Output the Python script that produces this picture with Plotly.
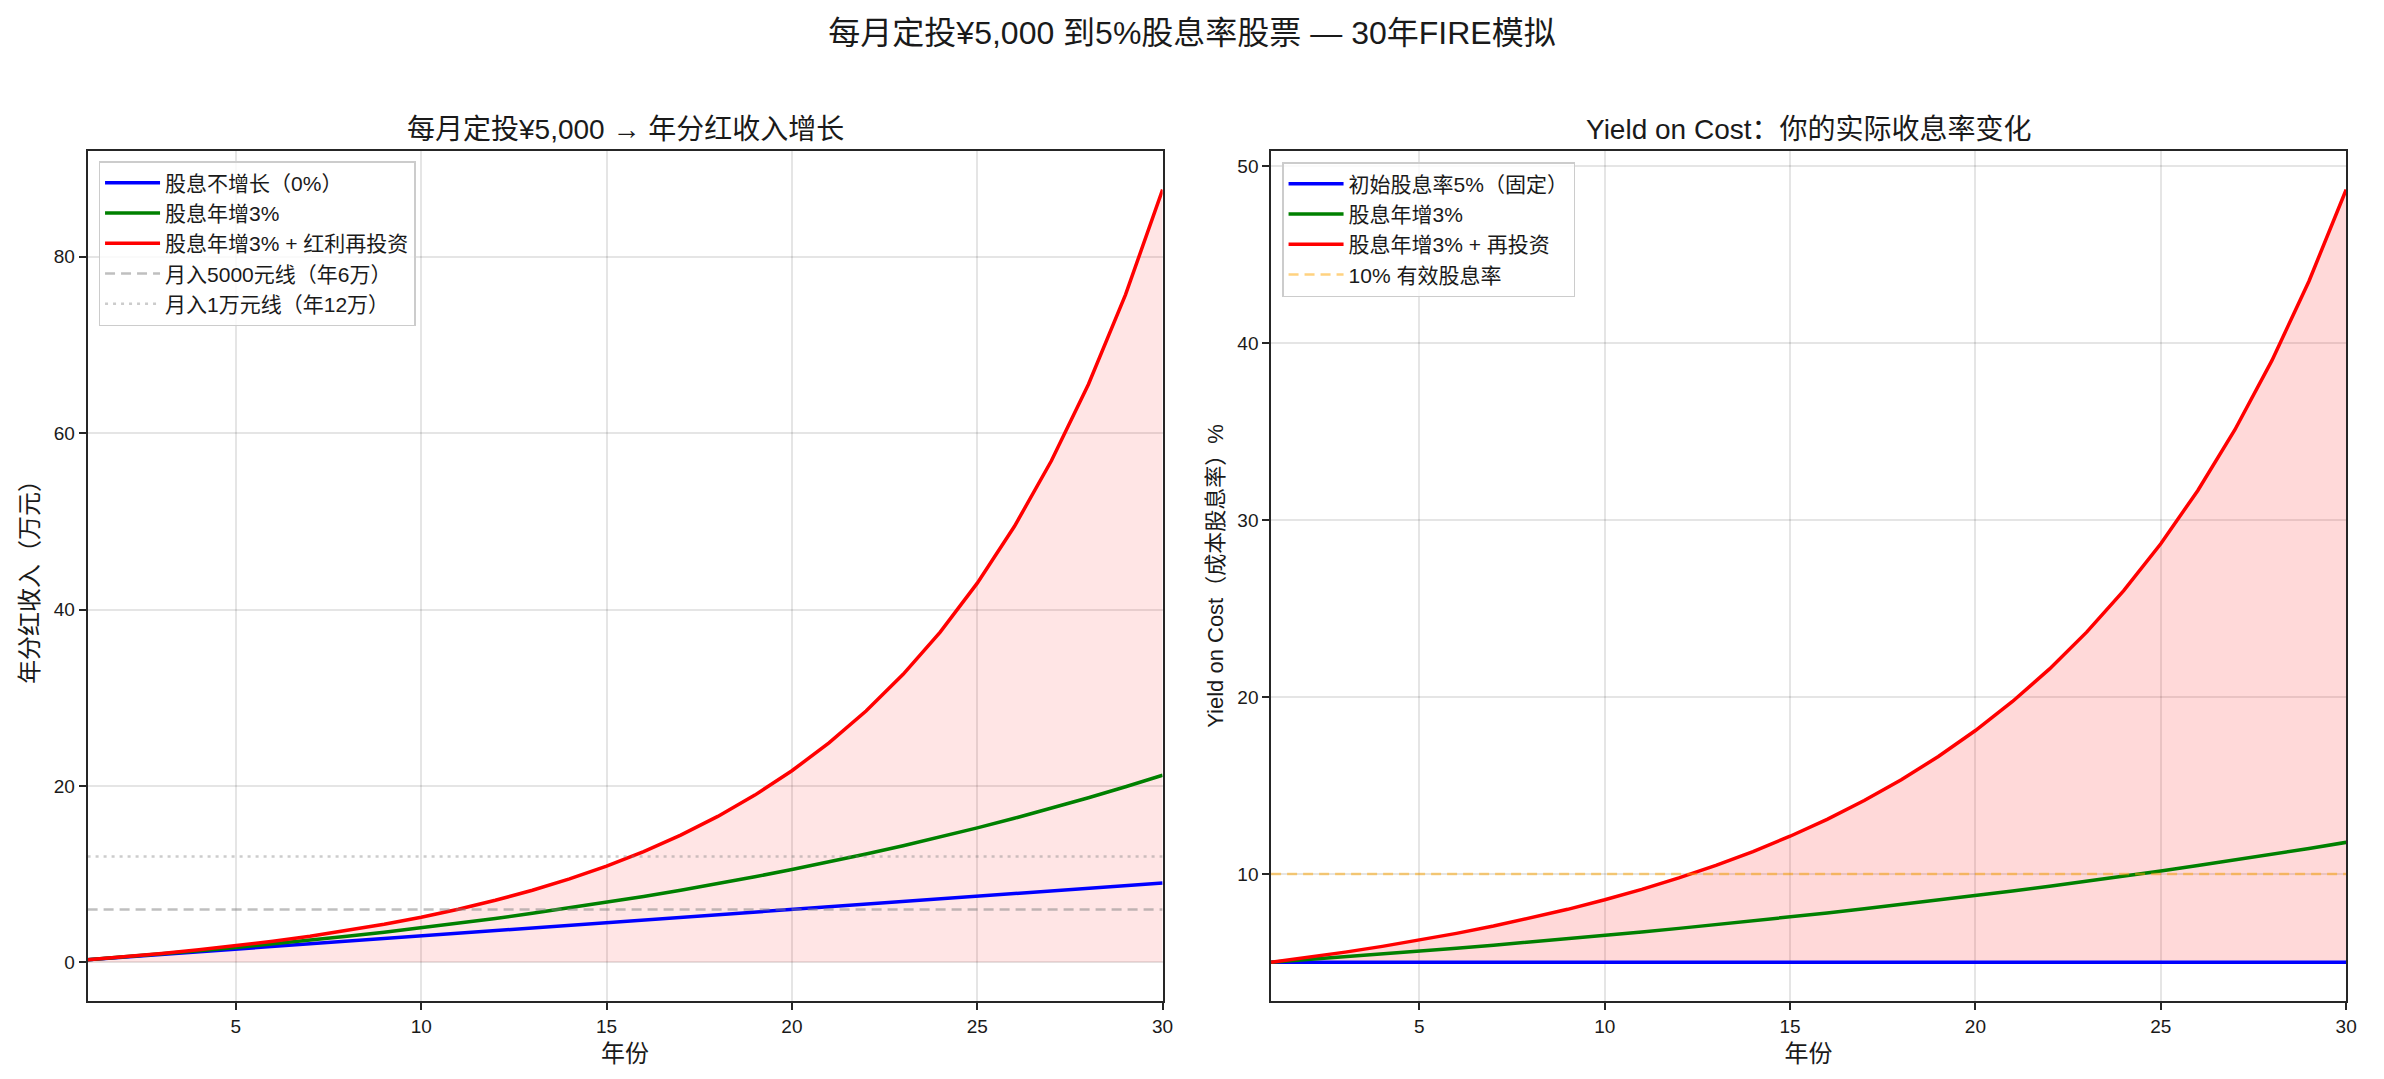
import plotly.graph_objects as go

years = list(range(1, 31))

# 年分红收入（万元）
income_flat = [0.3, 0.6, 0.9, 1.2, 1.5, 1.8, 2.1, 2.4, 2.7, 3.0,
               3.3, 3.6, 3.9, 4.2, 4.5, 4.8, 5.1, 5.4, 5.7, 6.0,
               6.3, 6.6, 6.9, 7.2, 7.5, 7.8, 8.1, 8.4, 8.7, 9.0]
income_growth = [0.300, 0.618, 0.955, 1.311, 1.688, 2.087, 2.508, 2.952, 3.420, 3.914,
                 4.435, 4.983, 5.560, 6.168, 6.807, 7.478, 8.184, 8.925, 9.704, 10.521,
                 11.379, 12.278, 13.221, 14.210, 15.246, 16.331, 17.468, 18.659, 19.905, 21.209]
income_reinvest = [0.300, 0.633, 1.004, 1.417, 1.877, 2.390, 2.962, 3.602, 4.319, 5.122,
                   6.023, 7.035, 8.176, 9.462, 10.915, 12.560, 14.427, 16.547, 18.962, 21.721,
                   24.876, 28.492, 32.654, 37.447, 42.986, 49.404, 56.860, 65.545, 75.700, 87.597]

# Yield on Cost (%)
yoc_flat = [5.0] * 30
yoc_growth = [5.000, 5.150, 5.305, 5.464, 5.628, 5.796, 5.970, 6.149, 6.334, 6.524,
              6.720, 6.921, 7.129, 7.343, 7.563, 7.790, 8.024, 8.264, 8.512, 8.768,
              9.031, 9.302, 9.581, 9.868, 10.164, 10.469, 10.783, 11.106, 11.440, 11.783]
yoc_reinvest = [5.000, 5.275, 5.578, 5.904, 6.257, 6.639, 7.052, 7.504, 7.998, 8.537,
                9.126, 9.771, 10.482, 11.264, 12.128, 13.083, 14.144, 15.321, 16.633, 18.101,
                19.743, 21.585, 23.662, 26.005, 28.657, 31.669, 35.099, 39.015, 43.506, 48.665]

line_5000 = 6    # 年6万
line_10000 = 12  # 年12万
line_yoc10 = 10

FONT = "Liberation Sans, Noto Sans CJK SC, sans-serif"
W, H = 2384, 1079
x_span = [years[0], years[-1]]

fig = go.Figure()

# ---- left panel ----
fig.add_trace(go.Scatter(x=years, y=[0] * len(years), mode="lines",
                         line=dict(width=0, color="rgba(255,0,0,0)"),
                         showlegend=False, hoverinfo="skip", xaxis="x", yaxis="y"))
fig.add_trace(go.Scatter(x=years, y=income_reinvest, mode="lines", fill="tonexty",
                         fillcolor="rgba(255,0,0,0.1)", line=dict(width=0, color="rgba(255,0,0,0)"),
                         showlegend=False, hoverinfo="skip", xaxis="x", yaxis="y"))
fig.add_trace(go.Scatter(x=years, y=income_flat, mode="lines", name="股息不增长（0%）",
                         line=dict(color="#0000ff", width=3.5), xaxis="x", yaxis="y", legend="legend"))
fig.add_trace(go.Scatter(x=years, y=income_growth, mode="lines", name="股息年增3%",
                         line=dict(color="#008000", width=3.5), xaxis="x", yaxis="y", legend="legend"))
fig.add_trace(go.Scatter(x=years, y=income_reinvest, mode="lines", name="股息年增3% + 红利再投资",
                         line=dict(color="#ff0000", width=3.5), xaxis="x", yaxis="y", legend="legend"))
fig.add_trace(go.Scatter(x=x_span, y=[line_5000] * 2, mode="lines", name="月入5000元线（年6万）",
                         line=dict(color="rgba(128,128,128,0.5)", width=2.5, dash="10px,6px"),
                         xaxis="x", yaxis="y", legend="legend"))
fig.add_trace(go.Scatter(x=x_span, y=[line_10000] * 2, mode="lines", name="月入1万元线（年12万）",
                         line=dict(color="rgba(128,128,128,0.4)", width=2.5, dash="3px,5px"),
                         xaxis="x", yaxis="y", legend="legend"))

# ---- right panel ----
fig.add_trace(go.Scatter(x=years, y=yoc_flat, mode="lines",
                         line=dict(width=0, color="rgba(255,0,0,0)"),
                         showlegend=False, hoverinfo="skip", xaxis="x2", yaxis="y2"))
fig.add_trace(go.Scatter(x=years, y=yoc_reinvest, mode="lines", fill="tonexty",
                         fillcolor="rgba(255,0,0,0.15)", line=dict(width=0, color="rgba(255,0,0,0)"),
                         showlegend=False, hoverinfo="skip", xaxis="x2", yaxis="y2"))
fig.add_trace(go.Scatter(x=years, y=yoc_flat, mode="lines", name="初始股息率5%（固定）",
                         line=dict(color="#0000ff", width=3.5), xaxis="x2", yaxis="y2", legend="legend2"))
fig.add_trace(go.Scatter(x=years, y=yoc_growth, mode="lines", name="股息年增3%",
                         line=dict(color="#008000", width=3.5), xaxis="x2", yaxis="y2", legend="legend2"))
fig.add_trace(go.Scatter(x=years, y=yoc_reinvest, mode="lines", name="股息年增3% + 再投资",
                         line=dict(color="#ff0000", width=3.5), xaxis="x2", yaxis="y2", legend="legend2"))
fig.add_trace(go.Scatter(x=x_span, y=[line_yoc10] * 2, mode="lines", name="10% 有效股息率",
                         line=dict(color="rgba(255,165,0,0.5)", width=2.5, dash="10px,6px"),
                         xaxis="x2", yaxis="y2", legend="legend2"))

dom_y = [1 - 1001 / H, 1 - 151 / H]
axis_common = dict(showline=True, linecolor="#262626", linewidth=1.7, mirror=True,
                   ticks="outside", ticklen=7, tickwidth=1.7, tickcolor="#262626",
                   showgrid=True, gridcolor="rgba(0,0,0,0.1)", gridwidth=1.5,
                   zeroline=False, tickfont=dict(family=FONT, size=19, color="#1a1a1a"))

legend_common = dict(xanchor="left", yanchor="top", traceorder="normal",
                     bgcolor="rgba(255,255,255,0.8)", bordercolor="#cccccc", borderwidth=1.5,
                     font=dict(family=FONT, size=21, color="#1a1a1a"), tracegroupgap=0,
                     itemwidth=55)

fig.update_layout(
    width=W, height=H,
    margin=dict(l=0, r=0, t=0, b=0),
    paper_bgcolor="white", plot_bgcolor="white",
    font=dict(family=FONT, color="#1a1a1a"),
    title=dict(text="每月定投¥5,000 到5%股息率股票 — 30年FIRE模拟", x=0.5, xanchor="center",
               y=1 - 33 / H, yanchor="middle", font=dict(family=FONT, size=32, color="#1a1a1a")),
    xaxis=dict(domain=[88 / W, 1168 / W], range=[1, 30], tickvals=[5, 10, 15, 20, 25, 30],
               title=dict(text="年份", font=dict(family=FONT, size=24), standoff=10), anchor="y", **axis_common),
    yaxis=dict(domain=dom_y, range=[-4.38, 91.98], tickvals=[0, 20, 40, 60, 80],
               title=dict(text="年分红收入（万元）", font=dict(family=FONT, size=24), standoff=8),
               anchor="x", **axis_common),
    xaxis2=dict(domain=[1277 / W, 2357 / W], range=[1, 30], tickvals=[5, 10, 15, 20, 25, 30],
                title=dict(text="年份", font=dict(family=FONT, size=24), standoff=10), anchor="y2", **axis_common),
    yaxis2=dict(domain=dom_y, range=[2.817, 50.85], tickvals=[10, 20, 30, 40, 50],
                title=dict(text="Yield on Cost（成本股息率）%", font=dict(family=FONT, size=22), standoff=8),
                anchor="x2", **axis_common),
    legend=dict(x=99 / W, y=1 - 161 / H, **legend_common),
    legend2=dict(x=1288 / W, y=1 - 162 / H, **legend_common),
    annotations=[
        dict(text="每月定投¥5,000 → 年分红收入增长", x=(88 + 1168) / 2 / W, y=1 - 129 / H,
             xref="paper", yref="paper", xanchor="center", yanchor="middle", showarrow=False,
             font=dict(family=FONT, size=28, color="#1a1a1a")),
        dict(text="Yield on Cost：你的实际收息率变化", x=(1277 + 2357) / 2 / W, y=1 - 129 / H,
             xref="paper", yref="paper", xanchor="center", yanchor="middle", showarrow=False,
             font=dict(family=FONT, size=28, color="#1a1a1a")),
    ],
)

fig.write_html("out.html")
